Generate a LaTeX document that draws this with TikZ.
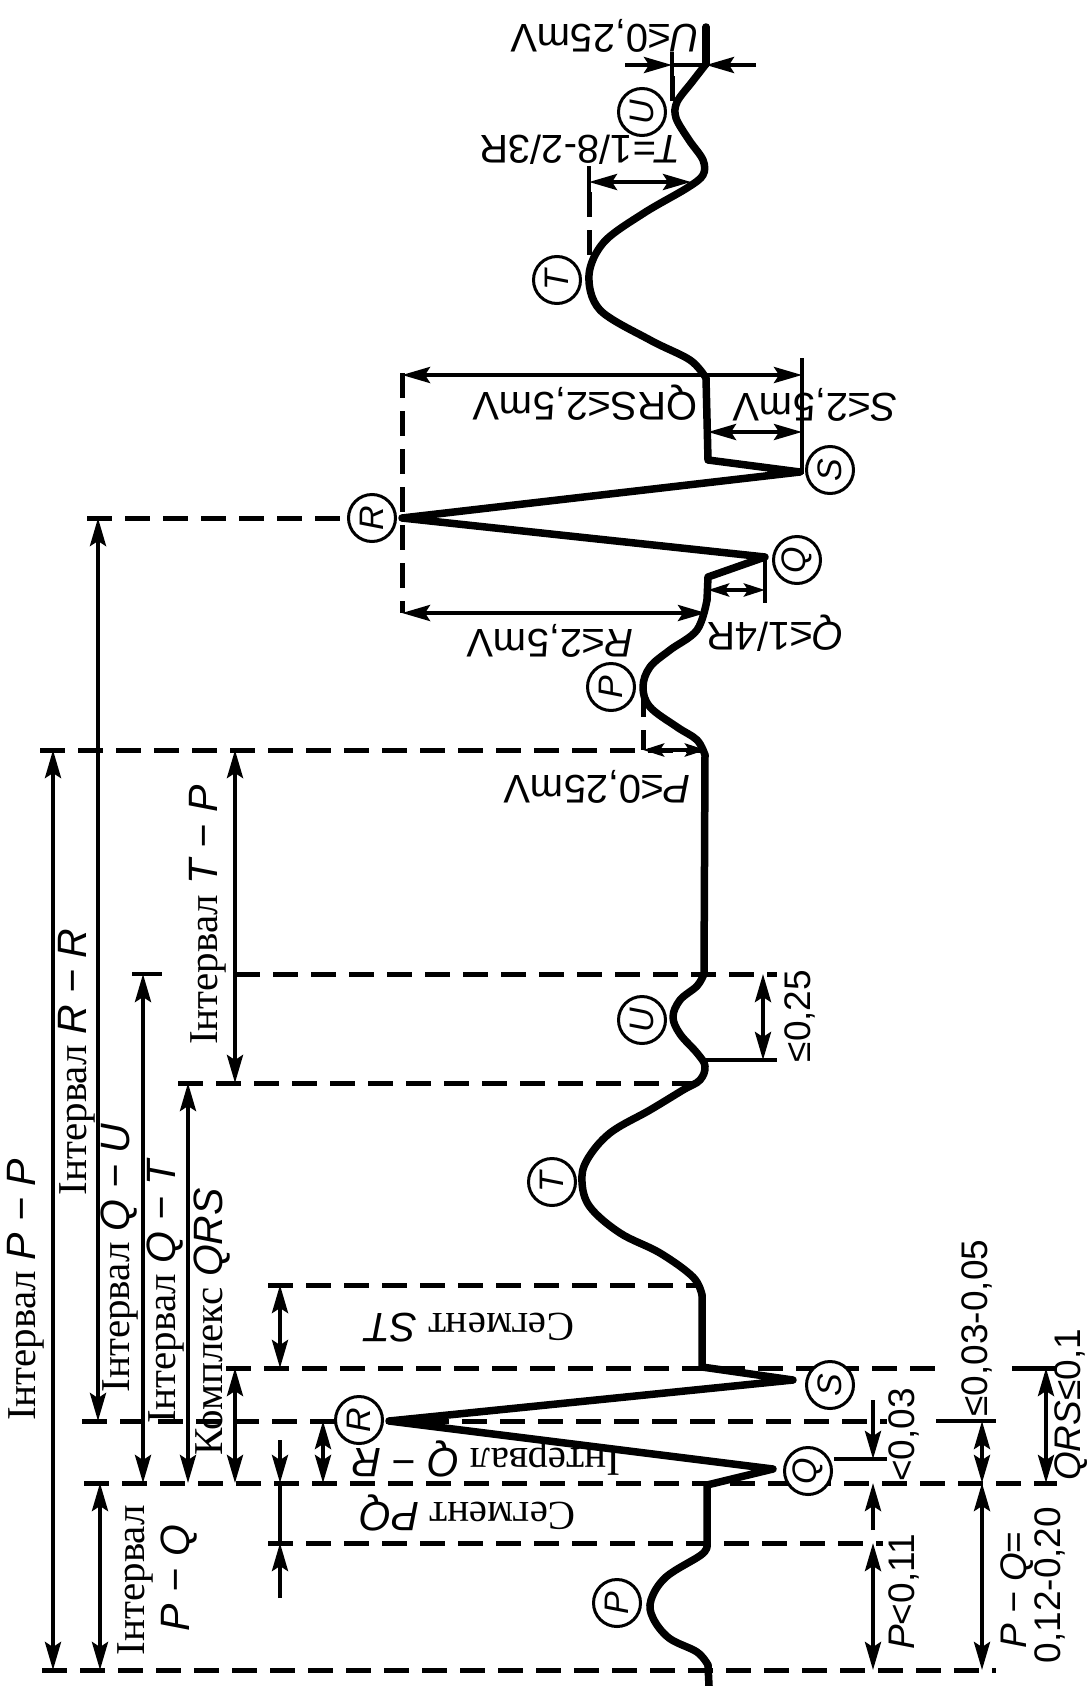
\documentclass[tikz,border=0pt]{standalone}
\usepackage{fontspec}
\setmainfont{Liberation Serif}
\newfontfamily\lsans{Liberation Sans}
\usetikzlibrary{arrows.meta}
\newcommand\isf[1]{{\lsans\itshape #1}}
\tikzset{
  wavel/.style={line width=7.5pt, line join=round, line cap=round},
  dashl/.style={line width=5pt, dash pattern=on 25pt off 13pt},
  dimln/.style={line width=4pt},
  dimboth/.style={dimln, {Stealth[length=28pt,width=16pt,inset=5pt]}-{Stealth[length=28pt,width=16pt,inset=5pt]}},
  dimsm/.style={dimln, {Stealth[length=21pt,width=13pt,inset=4pt]}-{Stealth[length=21pt,width=13pt,inset=4pt]}},
  dimone/.style={dimln, -{Stealth[length=28pt,width=16pt,inset=5pt]}},
  pcirc/.style={circle, draw, line width=3pt, fill=white, minimum size=47pt, inner sep=0pt, font=\lsans\itshape\fontsize{34}{34}\selectfont, rotate=90},
  serl/.style={font=\fontsize{41}{41}\selectfont, inner sep=0pt},
  sanl/.style={font=\lsans\fontsize{40}{40}\selectfont, inner sep=0pt},
  sanr/.style={font=\lsans\fontsize{37}{37}\selectfont, inner sep=0pt},
}
\begin{document}
\begin{tikzpicture}[x=1pt,y=-1pt]
\fill[white] (0,0) rectangle (1091,1686);
\useasboundingbox (0,0) rectangle (1091,1686);

% ---------- level coordinates ----------
\coordinate (pp0) at (40,750);   \coordinate (pp1) at (706,750);
\coordinate (rr0) at (87,518);   \coordinate (rr1) at (352,518);
\coordinate (rv0) at (402,373);  \coordinate (rv1) at (402,613);
\coordinate (ue0) at (235,974);  \coordinate (ue1) at (777,974);
\coordinate (te0) at (178,1083); \coordinate (te1) at (704,1083);
\coordinate (st0) at (268,1285); \coordinate (st1) at (702,1285);
\coordinate (sl0) at (226,1368); \coordinate (sl1) at (946,1368);
\coordinate (rl0) at (82,1421);  \coordinate (rl1) at (887,1421);
\coordinate (ql0) at (84,1483);  \coordinate (ql1) at (1057,1483);
\coordinate (pe0) at (268,1543); \coordinate (pe1) at (883,1543);
\coordinate (bl0) at (42,1670);  \coordinate (bl1) at (996,1670);

% ---------- dashed guide lines ----------
\foreach \a/\b in {pp0/pp1, rr0/rr1, rv0/rv1, ue0/ue1, te0/te1, st0/st1, sl0/sl1, rl0/rl1, ql0/ql1, pe0/pe1, bl0/bl1}
  \draw[dashl] (\a) -- (\b);
\draw[line width=5pt] (1012,1368) -- (1057,1368);
\draw[dashl] (589,192) -- (589,272);
\draw[dimln] (589,166) -- (589,192);
\draw[dashl] (672,76) -- (672,104);
\draw[dimln] (672,52) -- (672,76);
\draw[dashl] (643,692) -- (643,750);

% ---------- waveform ----------
\draw[wavel] (706,27) -- (706,64);
\draw[wavel] plot[smooth, tension=0.55] coordinates {(706,64) (692,82) (677,102) (676,118) (689,140) (703,160) (703,175) (687,188) (644,213) (604,242) (589,275) (600,310) (650,340) (690,360) (706,378)};
\draw[wavel] (706,378) -- (708,460) -- (800,472) -- (402,518) -- (765,557) -- (708,577) -- (707,600);
\draw[wavel] plot[smooth, tension=0.6] coordinates {(707,600) (697,630) (670,650) (650,667) (643,687) (650,707) (677,727) (697,740) (705,755)};
\draw[wavel] (705,755) -- (704,974);
\draw[wavel] plot[smooth, tension=0.6] coordinates {(704,974) (697,986) (680,1000) (673,1017) (680,1034) (697,1053) (705,1066) (700,1080) (683,1090) (650,1110) (610,1133) (587,1160) (582,1182) (590,1207) (620,1233) (660,1253) (693,1277) (702,1295)};
\draw[wavel] (702,1295) -- (702,1367) -- (793,1380) -- (389,1421) -- (773,1469) -- (707,1485) -- (707,1546);
\draw[wavel] plot[smooth, tension=0.6] coordinates {(707,1546) (701,1555) (666,1577) (651,1600) (653,1618) (669,1638) (697,1652) (708,1665)};
\draw[wavel] (708,1665) -- (709,1686);

% ---------- wave letters ----------
\node[pcirc] (cU1) at (642,112) {U};
\node[pcirc] (cT1) at (557,280) {T};
\node[pcirc] (cR1) at (372,518) {R};
\node[pcirc] (cS1) at (830,470) {S};
\node[pcirc] (cQ1) at (797,560) {Q};
\node[pcirc] (cP1) at (611,687) {P};
\node[pcirc] (cU2) at (642,1020) {U};
\node[pcirc] (cT2) at (552,1182) {T};
\node[pcirc] (cS2) at (830,1385) {S};
\node[pcirc] (cR2) at (359,1420) {R};
\node[pcirc] (cQ2) at (808,1471) {Q};
\node[pcirc] (cP2) at (617,1603) {P};

% ---------- dimension lines, left ----------
\draw[dimboth] (53,750) -- (53,1670);
\draw[dimboth] (98,518) -- (98,1421);
\draw[dimboth] (143,974) -- (143,1483);
\draw[dimln] (132,974) -- (162,974);
\draw[dimboth] (188,1083) -- (188,1483);
\draw[dimboth] (235,750) -- (235,1083);
\draw[dimboth] (235,1368) -- (235,1483);
\draw[dimboth] (280,1285) -- (280,1368);
\draw[dimboth] (323,1421) -- (323,1483);
\draw[dimboth] (100,1483) -- (100,1670);
\draw[dimone] (280,1440) -- (280,1483);
\draw[dimln] (280,1483) -- (280,1543);
\draw[dimone] (280,1598) -- (280,1543);

% ---------- dimension lines, upper cycle ----------
\draw[dimone] (625,65) -- (672,65);
\draw[dimln] (672,65) -- (706,65);
\draw[dimone] (756,65) -- (706,65);
\draw[dimboth] (589,182) -- (691,182);
\draw[dimboth] (402,375) -- (802,375);
\draw[dimln] (802,358) -- (802,474);
\draw[dimboth] (708,432) -- (802,432);
\draw[dimln] (765,555) -- (765,603);
\draw[dimsm] (708,590) -- (765,590);
\draw[dimboth] (402,613) -- (706,613);
\draw[dimsm] (643,750) -- (706,750);

% ---------- dimension lines, right ----------
\draw[dimboth] (763,974) -- (763,1060);
\draw[dimln] (706,1060) -- (777,1060);
\draw[dimone] (873,1400) -- (873,1459);
\draw[dimln] (834,1459) -- (887,1459);
\draw[dimone] (873,1530) -- (873,1483);
\draw[dimboth] (982,1421) -- (982,1483);
\draw[dimln] (936,1421) -- (996,1421);
\draw[dimboth] (1046,1368) -- (1046,1483);
\draw[dimboth] (873,1543) -- (873,1670);
\draw[dimboth] (982,1483) -- (982,1670);

% ---------- labels, upside down ----------
\node[sanl, rotate=180] (lU) at (605,36) {\isf{U}≤0,25mV};
\node[sanl, rotate=180] (lT) at (580,150) {\isf{T}=1/8-2/3R};
\node[sanl, rotate=180] (lQRS) at (585,403) {QRS≤2,5mV};
\node[sanl, rotate=180] (lS) at (815,405) {\isf{S}≤2,5mV};
\node[sanl, rotate=180] (lQ) at (775,633) {\isf{Q}≤1/4R};
\node[sanl, rotate=180] (lR) at (550,641) {\isf{R}≤2,5mV};
\node[sanl, rotate=180] (lP) at (597,787) {\isf{P}≤0,25mV};
\node[serl, rotate=180] (lST) at (470,1328) {Сегмент \isf{ST}};
\node[serl, rotate=180] (lQR) at (486,1458) {Інтервал \isf{Q − R}};
\node[serl, rotate=180] (lPQs) at (468,1513) {Сегмент \isf{PQ}};

% ---------- labels, left column ----------
\node[serl, rotate=90] (lPP) at (26,1290) {Інтервал \isf{P − P}};
\node[serl, rotate=90] (lRR) at (77,1062) {Інтервал \isf{R − R}};
\node[serl, rotate=90] (lTP) at (208,915) {Інтервал \isf{T − P}};
\node[serl, rotate=90] (lQU) at (120,1258) {Інтервал \isf{Q − U}};
\node[serl, rotate=90] (lQT) at (166,1292) {Інтервал \isf{Q − T}};
\node[serl, rotate=90] (lK) at (212,1322) {Комплекс \isf{QRS}};
\node[serl, rotate=90] (lPQa) at (135,1580) {Інтервал};
\node[serl, rotate=90] (lPQb) at (179,1578) {\isf{P − Q}};

% ---------- labels, right ----------
\node[sanr, rotate=90] (r1) at (800,1016) {≤0,25};
\node[sanr, rotate=90] (r2) at (904,1435) {<0,03};
\node[sanr, rotate=90] (r3) at (977,1328) {≤0,03-0,05};
\node[sanr, rotate=90] (r4) at (1071,1405) {\isf{QRS}≤0,1};
\node[sanr, rotate=90] (r5) at (904,1592) {\isf{P}<0,11};
\node[sanr, rotate=90] (r6) at (1017,1590) {\isf{P − Q}=};
\node[sanr, rotate=90] (r7) at (1050,1585) {0,12-0,20};
\end{tikzpicture}
\end{document}
